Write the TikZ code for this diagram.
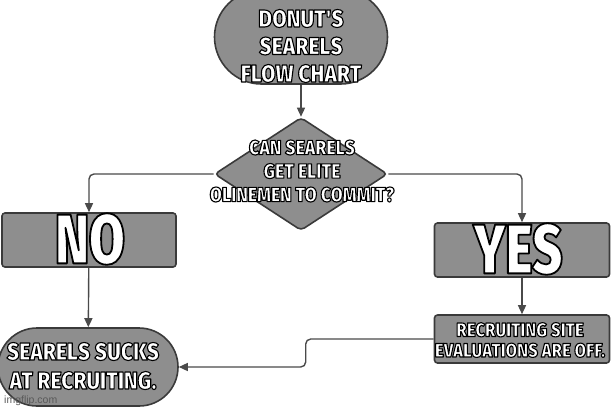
\documentclass[tikz,border=0pt]{standalone}
\usepackage{fontspec}
\usetikzlibrary{arrows.meta, positioning, shapes.geometric, shapes.misc}

% a heavy condensed face for the captions
\IfFontExistsTF{Fira Sans Heavy}{\def\capface{Fira Sans Heavy}}{%
  \IfFontExistsTF{Fira Sans Black}{\def\capface{Fira Sans Black}}{\def\capface{Liberation Sans Bold}}}
\newfontfamily\memefont[FakeStretch=0.86]{\capface}
\newfontfamily\bigmemefont[FakeStretch=0.74]{\capface}
\newfontfamily\markfont{Liberation Sans}
\definecolor{boxgray}{HTML}{8E8E8E}
\definecolor{edgegray}{HTML}{3A3A3A}
\definecolor{linegray}{HTML}{4A4A4A}

% white caption letters with a black outline (fill + stroke render mode)
\newcommand{\outw}{1.1}
\newcommand{\outl}[1]{{\color{white}\special{pdf:literal direct 2 Tr \outw\space w 0 G 1 j}#1\special{pdf:literal direct 0 Tr}}}

\begin{document}
\begin{tikzpicture}[x=1pt, y=-1pt,
    blk/.style={draw=edgegray, line width=1.6pt, fill=boxgray, inner sep=0pt},
    term/.style={blk, rounded rectangle},
    proc/.style={blk, rectangle, rounded corners=3pt},
    txt/.style={align=center, inner sep=0pt, font=\memefont},
    flow/.style={draw=linegray, line width=1.4pt, rounded corners=5pt, -{Triangle[length=9pt, width=8pt]}}
]
\useasboundingbox (0,0) rectangle (612,408);

% Start - cut at the top edge
\node[term, minimum width=173pt, minimum height=94pt] (title) at (301,37) {};
\node[txt, font=\memefont\fontsize{24.5}{27.5}\selectfont] (titletxt) at (301,46)
    {\outl{DONUT'S}\\\outl{SEARELS}\\\outl{FLOW CHART}};

% Decision
\node[blk, diamond, rounded corners=4pt, minimum width=173pt, minimum height=113pt] (ask) at (301,174) {};
\node[txt, font=\memefont\fontsize{20.5}{23.5}\selectfont] (asktxt) at (302,171)
    {\outl{CAN SEARELS}\\\outl{GET ELITE}\\\outl{OLINEMEN TO COMMIT?}};

% Answers
\node[proc, minimum width=174pt, minimum height=54pt] (no) at (89,240) {};
\node[txt, font=\bigmemefont\fontsize{70}{70}\selectfont] (notxt) at (90,239)
    {\renewcommand{\outw}{1.8}\outl{NO}};
\node[proc, minimum width=175pt, minimum height=54pt] (yes) at (522,250) {};
\node[txt, font=\bigmemefont\fontsize{70}{70}\selectfont] (yestxt) at (518,249)
    {\renewcommand{\outw}{1.8}\outl{YES}};

% Results
\node[proc, minimum width=175pt, minimum height=48pt] (rec) at (522,339) {};
\node[txt, font=\memefont\fontsize{19.5}{20.5}\selectfont] (rectxt) at (520,340)
    {\outl{RECRUITING SITE}\\\outl{EVALUATIONS ARE OFF.}};
\node[term, minimum width=180pt, minimum height=78pt] (sucks) at (88,367) {};
\node[txt, font=\memefont\fontsize{24.5}{29}\selectfont] (suckstxt) at (83,366)
    {\outl{SEARELS SUCKS}\\\outl{AT RECRUITING.}};

% Connectors
\draw[flow] (title) -- (ask);
\draw[flow] (ask.west) -| (no.north);
\draw[flow] (ask.east) -| (yes.north);
\draw[flow] (no) -- (sucks);
\draw[flow] (yes) -- (rec);
\draw[flow] (rec.west) -- ++(-128,0) |- (sucks.east);

% watermark
\node[anchor=west, inner sep=0pt, text=black!65, font=\markfont\fontsize{10.5}{12}\selectfont] (mark) at (4,401) {imgflip.com};

\end{tikzpicture}
\end{document}
